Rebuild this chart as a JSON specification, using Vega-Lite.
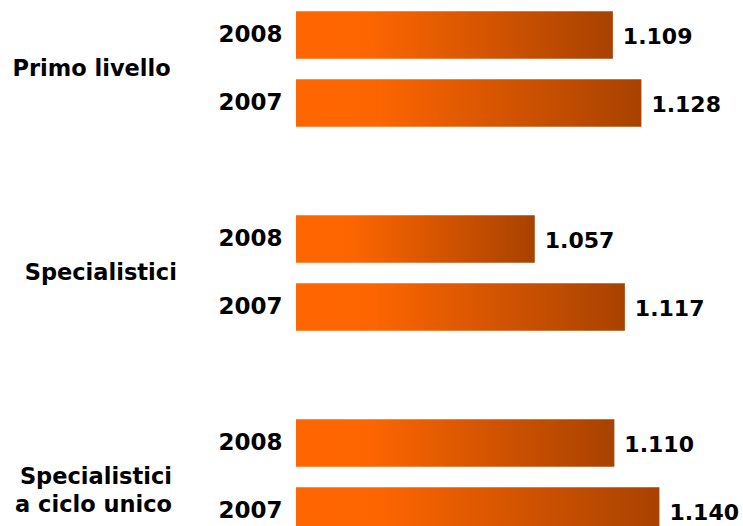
{
  "$schema": "https://vega.github.io/schema/vega-lite/v6.json",
  "padding": {"top": 1, "left": 12, "right": 0, "bottom": 0},
  "background": "white",
  "data": {"values": [
    {"gruppo": "Primo livello", "anno": "2008", "valore": 1.109},
    {"gruppo": "Primo livello", "anno": "2007", "valore": 1.128},
    {"gruppo": "Specialistici", "anno": "2008", "valore": 1.057},
    {"gruppo": "Specialistici", "anno": "2007", "valore": 1.117},
    {"gruppo": "Specialistici|a ciclo unico", "anno": "2008", "valore": 1.110},
    {"gruppo": "Specialistici|a ciclo unico", "anno": "2007", "valore": 1.140}
  ]},
  "facet": {
    "row": {
      "field": "gruppo",
      "type": "nominal",
      "sort": ["Primo livello", "Specialistici", "Specialistici|a ciclo unico"],
      "header": {
        "title": null,
        "labelOrient": "left",
        "labelAngle": 0,
        "labelAlign": "right",
        "labelBaseline": "middle",
        "labelFont": "DejaVu Sans",
        "labelFontWeight": "bold",
        "labelFontSize": 22.5,
        "labelColor": "black",
        "labelPadding": -111,
        "labelLineHeight": 28,
        "labelExpr": "split(datum.value, '|')"
      }
    }
  },
  "spacing": 68,
  "resolve": {"scale": {"x": "shared"}},
  "spec": {
    "width": 440,
    "height": 136,
    "encoding": {
      "y": {
        "field": "anno",
        "type": "nominal",
        "sort": "descending",
        "scale": {"paddingInner": 0.3, "paddingOuter": 0.15},
        "axis": {
          "title": null,
          "domain": false,
          "ticks": false,
          "tickSize": 0,
          "labelPadding": 14,
          "labelFont": "DejaVu Sans",
          "labelFontWeight": "bold",
          "labelFontSize": 23,
          "labelColor": "black"
        }
      }
    },
    "layer": [
      {
        "mark": {
          "type": "bar",
          "fill": {
            "gradient": "linear",
            "x1": 0, "x2": 1, "y1": 0, "y2": 0,
            "stops": [
              {"offset": 0, "color": "#FF6600"},
              {"offset": 0.24, "color": "#FC6500"},
              {"offset": 1, "color": "#A84200"}
            ]
          }
        },
        "encoding": {
          "x": {
            "field": "valore",
            "type": "quantitative",
            "scale": {"domain": [0.898, 1.191], "zero": false, "nice": false},
            "axis": null
          },
          "x2": {"datum": 0.898}
        }
      },
      {
        "mark": {
          "type": "text",
          "align": "left",
          "baseline": "middle",
          "dx": 10,
          "dy": 2,
          "font": "DejaVu Sans",
          "fontWeight": "bold",
          "fontSize": 22,
          "color": "black"
        },
        "encoding": {
          "x": {"field": "valore", "type": "quantitative"},
          "text": {"field": "valore", "type": "quantitative", "format": ".3f"}
        }
      }
    ]
  },
  "config": {"view": {"stroke": null}}
}
